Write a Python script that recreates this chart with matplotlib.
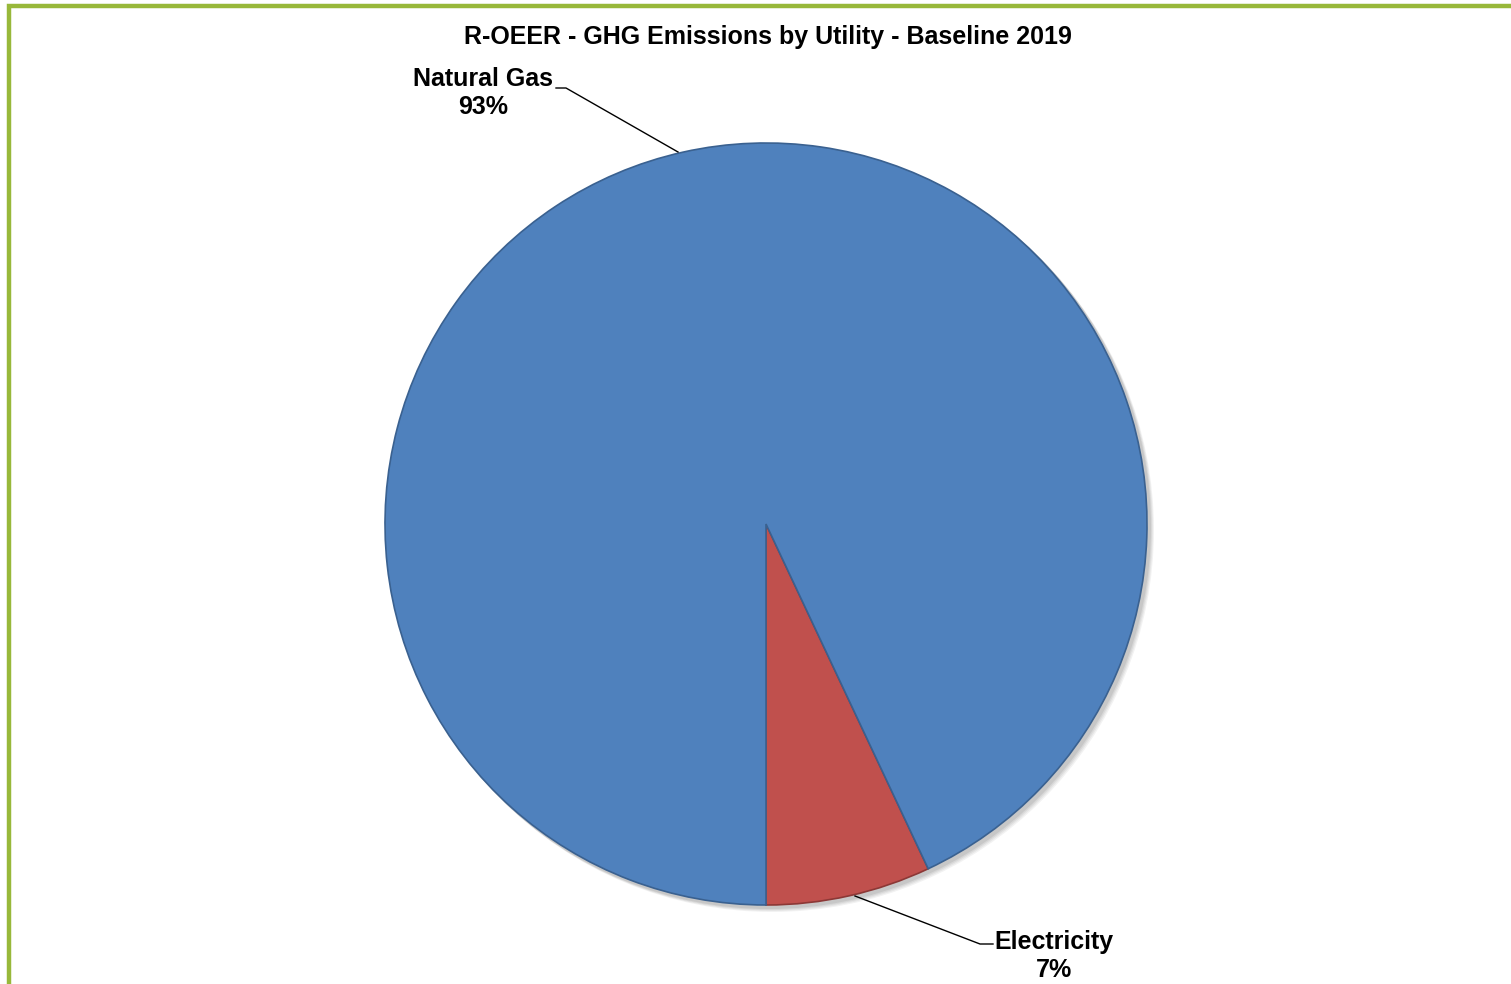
import matplotlib.pyplot as plt
from matplotlib.patches import Rectangle, Circle

plt.rcParams['font.family'] = ['Liberation Sans', 'DejaVu Sans']

utilities = ["Electricity", "Natural Gas"]
shares = [7, 93]
colors = ["#C0504D", "#4F81BD"]
edge_colors = ["#8C3836", "#3A6190"]

W, H = 1511, 984
fig = plt.figure(figsize=(W / 100, H / 100), dpi=100)
ax = fig.add_axes([0, 0, 1, 1])
ax.set_xlim(0, W)
ax.set_ylim(0, H)
ax.set_aspect("equal")
ax.axis("off")

cx, cy, r = 766, H - 524, 381

# soft drop shadow under the pie
for i, a in enumerate([0.05, 0.05, 0.06, 0.07]):
    off = 6 - i
    ax.add_patch(Circle((cx + off, cy - off), r + 1, color="black", alpha=a, lw=0, zorder=1))

wedges, _ = ax.pie(shares, colors=colors, startangle=-90, counterclock=True,
                   center=(cx, cy), radius=r, frame=True,
                   wedgeprops=dict(linewidth=1.2, zorder=2))
for w, ec in zip(wedges, edge_colors):
    w.set_edgecolor(ec)
ax.set_xlim(0, W)
ax.set_ylim(0, H)
ax.axis("off")

# outer frame
ax.add_patch(Rectangle((9, -20), W + 40, H - 6 + 20, fill=False,
                       edgecolor="#98B83A", linewidth=3.2, zorder=5))

ax.text(768, H - 37, "R-OEER - GHG Emissions by Utility - Baseline 2019",
        ha="center", va="center", fontsize=18, fontweight="bold")

# data labels with leader lines
ax.text(483, H - 93, "Natural Gas\n93%", ha="center", va="center",
        fontsize=18, fontweight="bold", linespacing=1.2)
ax.plot([556, 566, 678], [H - 88, H - 88, H - 152], color="black", lw=1, zorder=3)

ax.text(1054, H - 956, "Electricity\n7%", ha="center", va="center",
        fontsize=18, fontweight="bold", linespacing=1.2)
ax.plot([993, 980, 855], [H - 944, H - 944, H - 896], color="black", lw=1, zorder=3)

fig.savefig("out.png", dpi=100)
